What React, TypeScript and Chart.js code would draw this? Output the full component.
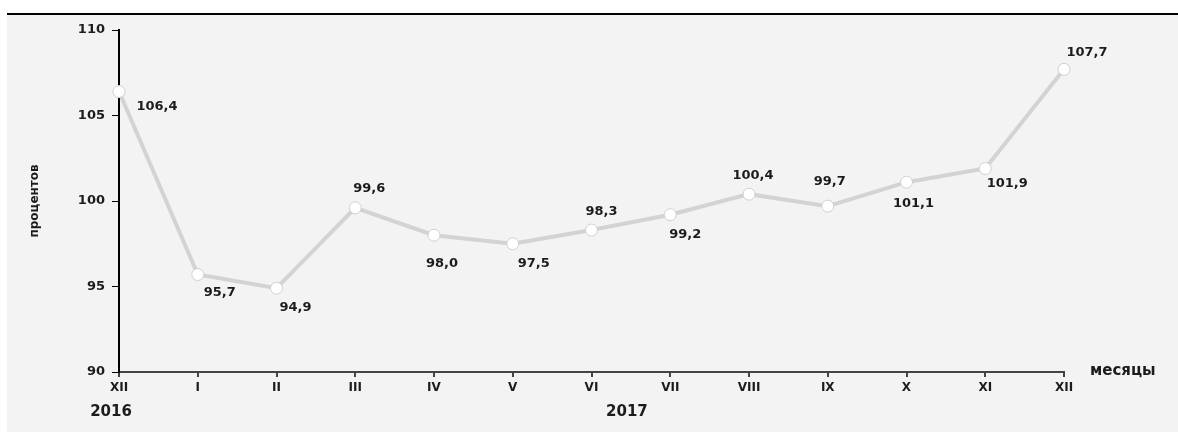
import React, { useEffect, useRef } from "react";
import { Chart, registerables } from "chart.js";

Chart.register(...registerables);

const months = ["XII", "I", "II", "III", "IV", "V", "VI", "VII", "VIII", "IX", "X", "XI", "XII"];
const values = [106.4, 95.7, 94.9, 99.6, 98.0, 97.5, 98.3, 99.2, 100.4, 99.7, 101.1, 101.9, 107.7];
const yMin = 90;
const yMax = 110;
const yStep = 5;
const yearLabels = ["2016", "2017"];
const yTitle = "процентов";
const xTitle = "месяцы";

// label placement relative to each point (style, not data)
const labelOffsets: [number, number][] = [
  [38, 15], [22, 18], [19, 19], [14, -19], [8, 28], [21, 20], [10, -18],
  [15, 20], [4, -19], [2, -25], [7, 21], [22, 15], [23, -17],
];

const FONT = "'DejaVu Sans', 'Liberation Sans', Arial, sans-serif";
const TEXT = "#1c1c1c";

const textPlugin = {
  id: "textPlugin",
  afterDatasetsDraw(chart: any) {
    const ctx = chart.ctx;
    const area = chart.chartArea;
    const xs = chart.scales.x;
    ctx.save();
    ctx.fillStyle = TEXT;
    // data labels
    ctx.font = `bold 13px ${FONT}`;
    ctx.textAlign = "center";
    ctx.textBaseline = "middle";
    const meta = chart.getDatasetMeta(0);
    meta.data.forEach((pt: any, i: number) => {
      const off = labelOffsets[i] || [0, -18];
      ctx.fillText(values[i].toFixed(1).replace(".", ","), pt.x + off[0], pt.y + off[1]);
    });
    // y title
    ctx.save();
    ctx.translate(28, (area.top + area.bottom) / 2);
    ctx.rotate(-Math.PI / 2);
    ctx.font = `bold 12px ${FONT}`;
    ctx.textAlign = "center";
    ctx.textBaseline = "middle";
    ctx.fillText(yTitle, 0, 0);
    ctx.restore();
    // x title
    ctx.font = `bold 15px ${FONT}`;
    ctx.textAlign = "left";
    ctx.textBaseline = "middle";
    ctx.fillText(xTitle, area.right + 26, area.bottom - 1);
    // years
    ctx.font = `bold 15px ${FONT}`;
    ctx.textAlign = "center";
    const y0 = xs.getPixelForTick(0) - 8;
    const y1 = (xs.getPixelForTick(6) + xs.getPixelForTick(7)) / 2 - 4;
    ctx.fillText(yearLabels[0], y0, area.bottom + 40);
    ctx.fillText(yearLabels[1], y1, area.bottom + 40);
    ctx.restore();
  },
};

export default function App() {
  const ref = useRef<HTMLCanvasElement | null>(null);
  useEffect(() => {
    if (!ref.current) return;
    const chart = new Chart(ref.current, {
      type: "line",
      data: {
        labels: months,
        datasets: [
          {
            data: values,
            borderColor: "#d3d3d3",
            borderWidth: 4,
            pointRadius: 6,
            pointBackgroundColor: "#ffffff",
            pointBorderColor: "#cfcfcf",
            pointBorderWidth: 1,
            tension: 0,
            fill: false,
          },
        ],
      },
      options: {
        animation: false,
        responsive: false,
        devicePixelRatio: 1,
        layout: { padding: { top: 15, right: 114, bottom: 0, left: 0 } },
        plugins: { legend: { display: false }, tooltip: { enabled: false } },
        scales: {
          x: {
            type: "category",
            offset: false,
            afterFit: (s: any) => { s.height = 60; },
            grid: { drawOnChartArea: false, drawTicks: true, tickLength: 5, color: "#444", lineWidth: 2 },
            border: { color: "#444", width: 2 },
            ticks: { color: TEXT, font: { family: FONT, size: 12, weight: "bold" }, padding: 4, maxRotation: 0, autoSkip: false },
          },
          y: {
            min: yMin,
            max: yMax,
            afterFit: (s: any) => { s.width = 112; },
            grid: { drawOnChartArea: false, drawTicks: true, tickLength: 7, color: "#000", lineWidth: 1 },
            border: { color: "#000", width: 2 },
            ticks: { stepSize: yStep, color: TEXT, font: { family: FONT, size: 13, weight: "bold" }, padding: 7 },
          },
        },
      },
      plugins: [textPlugin],
    } as any);
    return () => chart.destroy();
  }, []);
  return (
    <div
      style={{
        position: "fixed",
        left: 7,
        top: 13,
        width: 1171,
        height: 419,
        borderTop: "2px solid #000",
        background: "#f3f3f3",
        boxSizing: "border-box",
      }}
    >
      <canvas ref={ref} width={1171} height={417} style={{ display: "block" }} />
    </div>
  );
}
